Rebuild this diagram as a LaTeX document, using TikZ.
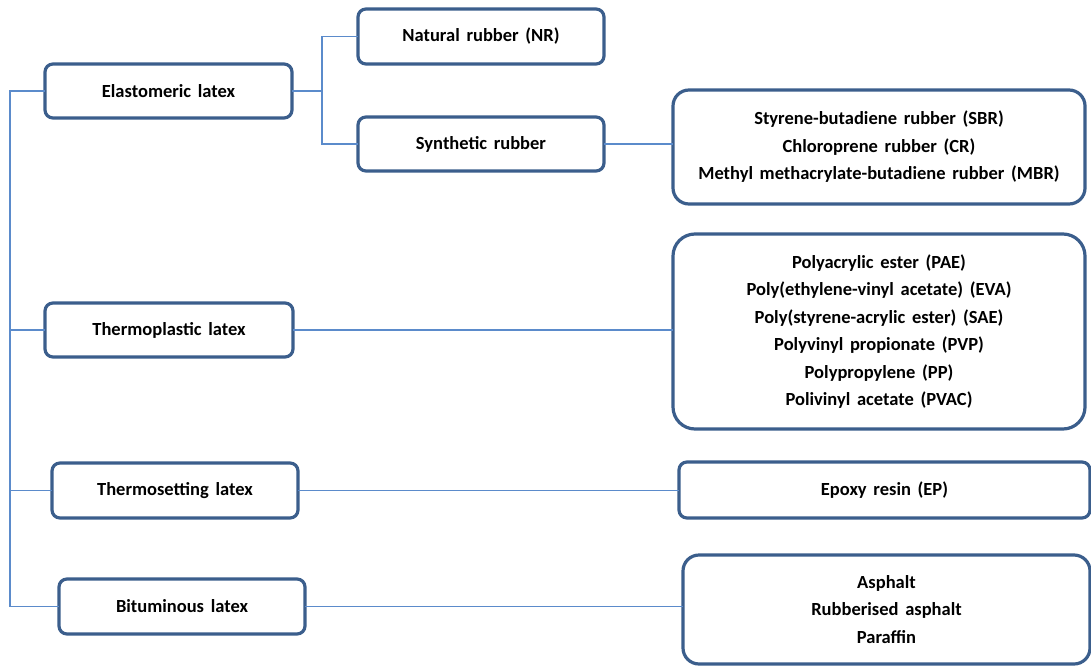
\documentclass[tikz,border=0pt]{standalone}
\usepackage{fontspec}
\setmainfont[WordSpace={1.6,0,0}]{Carlito}
\begin{document}
\begin{tikzpicture}[x=1pt,y=1pt,
  box/.style={draw=boxblue,line width=3.2pt,fill=white,rounded corners=8pt,
    anchor=north west,align=center,inner sep=0pt,outer sep=0pt,
    font=\fontsize{18.5}{27.5}\selectfont\bfseries},
  bigbox/.style={box,rounded corners=22pt},
  conn/.style={draw=lineblue,line width=1.1pt}]
\definecolor{boxblue}{HTML}{3B5E8C}
\definecolor{lineblue}{HTML}{5B8BCB}
\useasboundingbox (0,0) rectangle (1091,-666);
% first level
\node[box,minimum width=247pt,minimum height=54pt] (elast) at (45,-64) {Elastomeric latex};
\node[box,minimum width=248pt,minimum height=54pt] (thermop) at (45,-303) {Thermoplastic latex};
\node[box,minimum width=246pt,minimum height=55pt] (thermos) at (52,-463) {Thermosetting latex};
\node[box,minimum width=246pt,minimum height=55pt] (bitum) at (59,-579) {Bituminous latex};
% rubber types
\node[box,minimum width=246pt,minimum height=55pt] (nr) at (358,-9) {Natural rubber (NR)};
\node[box,minimum width=246pt,minimum height=54pt] (synth) at (358,-117) {Synthetic rubber};
% examples
\node[bigbox,rounded corners=16pt,minimum width=412pt,minimum height=114pt] (sbr) at (673,-90)
  {Styrene-butadiene rubber (SBR)\\Chloroprene rubber (CR)\\Methyl methacrylate-butadiene rubber (MBR)};
\node[bigbox,minimum width=412pt,minimum height=195pt] (pae) at (673,-234)
  {Polyacrylic ester (PAE)\\Poly(ethylene-vinyl acetate) (EVA)\\Poly(styrene-acrylic ester) (SAE)\\Polyvinyl propionate (PVP)\\Polypropylene (PP)\\Polivinyl acetate (PVAC)};
\node[box,minimum width=411pt,minimum height=56pt] (epoxy) at (679,-462) {Epoxy resin (EP)};
\node[bigbox,rounded corners=16pt,minimum width=407pt,minimum height=109pt] (asph) at (683,-555)
  {Asphalt\\Rubberised asphalt\\Paraffin};
% trunk on the left and fork of the elastomeric branch
\path (elast.west) ++(-35,0) coordinate (trunk);
\path (elast.east) ++(30,0) coordinate (fork);
\draw[conn] (elast.west) -- (trunk) -- (trunk |- bitum.west) -- (bitum.west);
\draw[conn] (thermop.west) -- (trunk |- thermop.west);
\draw[conn] (thermos.west) -- (trunk |- thermos.west);
\draw[conn] (elast.east) -- (fork);
\draw[conn] (nr.west) -| (fork) |- (synth.west);
% links to the examples
\draw[conn] (synth.east) -- (sbr.west |- synth.east);
\draw[conn] (thermop.east) -- (pae.west |- thermop.east);
\draw[conn] (thermos.east) -- (epoxy.west |- thermos.east);
\draw[conn] (bitum.east) -- (asph.west |- bitum.east);
\end{tikzpicture}
\end{document}
